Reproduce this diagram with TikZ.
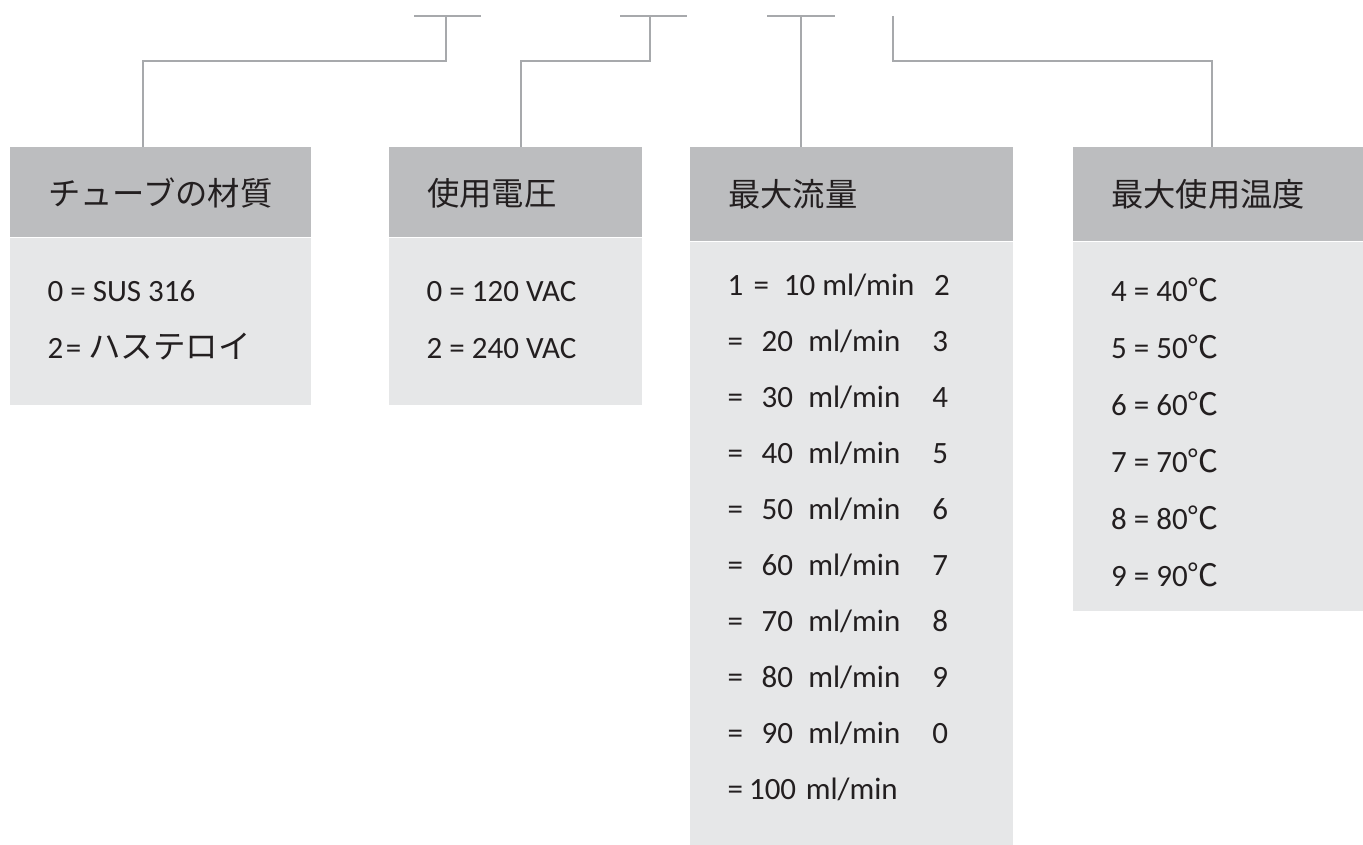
\documentclass[tikz,border=0pt]{standalone}
\usepackage{fontspec}
\setmainfont{Carlito}
\newfontfamily\jpfont{Noto Sans CJK JP}
\usetikzlibrary{calc}

\definecolor{headgray}{HTML}{BCBDBF}
\definecolor{bodygray}{HTML}{E6E7E8}
\definecolor{linegray}{HTML}{A7A9AC}
\definecolor{inkdark}{HTML}{231F20}

\tikzset{
  headbox/.style={fill=headgray, anchor=north west, inner sep=0pt, minimum height=90pt},
  bodybox/.style={fill=bodygray, anchor=north west, inner sep=0pt},
  headtext/.style={anchor=west, inner sep=0pt, text=inkdark, font=\jpfont\fontsize{32.3}{38}\selectfont},
  bodytext/.style={anchor=base west, inner sep=0pt, text=inkdark, font=\fontsize{31}{36}\selectfont},
  link/.style={draw=linegray, line width=2pt}
}

\begin{document}
\begin{tikzpicture}[x=1pt, y=-1pt]
    %%%%% START %%%%%
    \useasboundingbox (0,0) rectangle (1363,845);
    
    % boxes
    \node[headbox, minimum width=301pt] (h1) at (10,147) {};
    \node[bodybox, minimum width=301pt, minimum height=167pt] (b1) at (h1.south west) {};
    \node[headbox, minimum width=253pt] (h2) at (389,147) {};
    \node[bodybox, minimum width=253pt, minimum height=167pt] (b2) at (h2.south west) {};
    \node[headbox, minimum width=323pt, minimum height=94pt] (h3) at (690,147) {};
    \node[bodybox, minimum width=323pt, minimum height=605pt] (b3) at (h3.south west) {};
    \node[headbox, minimum width=290pt, minimum height=94pt] (h4) at (1073,147) {};
    \node[bodybox, minimum width=290pt, minimum height=369pt] (b4) at (h4.south west) {};
    
    % titles
    \node[headtext] (t1) at ($(h1.west)+(38,1)$) {チューブの材質};
    \node[headtext] (t2) at ($(h2.west)+(38,1)$) {使用電圧};
    \node[headtext] (t3) at ($(h3.west)+(38,0)$) {最大流量};
    \node[headtext] (t4) at ($(h4.west)+(38,0)$) {最大使用温度};
    
    % tube material
    \node[bodytext] (mat1) at (47.5,301.5) {0 = SUS 316};
    \node[bodytext] (mat2) at (47.5,358.5) {2\hspace{0.08em}= {\jpfont\fontsize{32.5}{36}\selectfont ハステロイ}};
    
    % voltage
    \node[bodytext] (volt1) at (426.5,301.5) {0 = 120 VAC};
    \node[bodytext] (volt2) at (426.5,358.5) {2 = 240 VAC};
    
    % flow
    \node[bodytext] (flow1) at (727.5,295) {1\hspace{0.33em}=\hspace{0.48em}10 ml/min\hspace{0.64em}2};
    \node[bodytext] (flow2) at (727.5,351) {=\hspace{0.6em}20\hspace{0.49em}ml/min\hspace{1.03em}3};
    \node[bodytext] (flow3) at (727.5,407) {=\hspace{0.6em}30\hspace{0.49em}ml/min\hspace{1.03em}4};
    \node[bodytext] (flow4) at (727.5,463) {=\hspace{0.6em}40\hspace{0.49em}ml/min\hspace{1.03em}5};
    \node[bodytext] (flow5) at (727.5,519) {=\hspace{0.6em}50\hspace{0.49em}ml/min\hspace{1.03em}6};
    \node[bodytext] (flow6) at (727.5,575) {=\hspace{0.6em}60\hspace{0.49em}ml/min\hspace{1.03em}7};
    \node[bodytext] (flow7) at (727.5,631) {=\hspace{0.6em}70\hspace{0.49em}ml/min\hspace{1.03em}8};
    \node[bodytext] (flow8) at (727.5,687) {=\hspace{0.6em}80\hspace{0.49em}ml/min\hspace{1.03em}9};
    \node[bodytext] (flow9) at (727.5,743) {=\hspace{0.6em}90\hspace{0.49em}ml/min\hspace{1.03em}0};
    \node[bodytext] (flow10) at (727.5,799) {=\hspace{0.19em}100\hspace{0.31em}ml/min};
    
    % temperature
    \node[bodytext] (temp1) at (1111,301.5) {4 = 40{\jpfont ℃}};
    \node[bodytext] (temp2) at (1111,358.5) {5 = 50{\jpfont ℃}};
    \node[bodytext] (temp3) at (1111,415.5) {6 = 60{\jpfont ℃}};
    \node[bodytext] (temp4) at (1111,472.5) {7 = 70{\jpfont ℃}};
    \node[bodytext] (temp5) at (1111,529.5) {8 = 80{\jpfont ℃}};
    \node[bodytext] (temp6) at (1111,586.5) {9 = 90{\jpfont ℃}};
    
    % connectors
    \coordinate (tee1) at (445.7,16);
    \coordinate (tee2) at (650,16);
    \coordinate (tee3) at (801,16);
    \coordinate (tee4) at (893,16);
    
    \draw[link] ($(tee1)+(-31.7,0)$) -- ($(tee1)+(35.3,0)$);
    \draw[link] ($(tee2)+(-30,0)$) -- ($(tee2)+(37.3,0)$);
    \draw[link] ($(tee3)+(-33.7,0)$) -- ($(tee3)+(34,0)$);
    
    \draw[link] (tee1) -- ++(0,45.5) -| ($(h1.north west)+(133,0)$);
    \draw[link] (tee2) -- ++(0,45.5) -| ($(h2.north west)+(131.7,0)$);
    \draw[link] (tee3) -- (tee3 |- h3.north);
    \draw[link] (tee4) -- ++(0,45.5) -| ($(h4.north west)+(138.7,0)$);
    
    %%%%% END %%%%%
\end{tikzpicture}
\end{document}
